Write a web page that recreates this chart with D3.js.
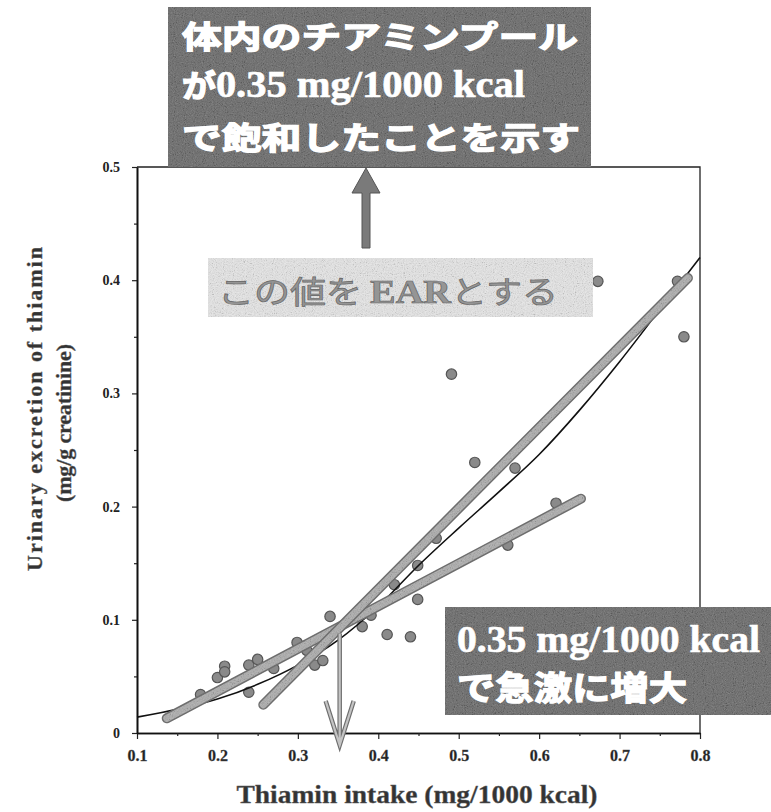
<!DOCTYPE html>
<html>
<head>
<meta charset="utf-8">
<script src="https://cdn.jsdelivr.net/npm/d3@7"></script>
<style>
  body { margin: 0; background: #fff; }
  svg { display: block; }
</style>
</head>
<body>
<div id="chart"></div>
<script>
// Chart data

// thiamin intake (mg/1000 kcal) of each subject
var intakeValues = [0.179, 0.200, 0.209, 0.209, 0.239, 0.239, 0.250, 0.270, 0.299, 0.311,
                    0.321, 0.331, 0.340, 0.380, 0.391, 0.411, 0.420, 0.440, 0.449, 0.449,
                    0.491, 0.520, 0.570, 0.621, 0.561, 0.472, 0.673, 0.780, 0.772];
// urinary excretion (mg/g creatinine) of each subject
var excretionValues = [0.034, 0.049, 0.059, 0.054, 0.036, 0.060, 0.065, 0.057, 0.080, 0.073,
                       0.060, 0.064, 0.103, 0.094, 0.104, 0.087, 0.131, 0.085, 0.118, 0.148,
                       0.317, 0.239, 0.234, 0.203, 0.166, 0.172, 0.399, 0.350, 0.399];

// thin fitted curve
var curveX = [0.10, 0.15, 0.20, 0.25, 0.30, 0.35, 0.40, 0.45, 0.50, 0.55, 0.60, 0.65, 0.70, 0.75, 0.80];
var curveY = [0.014, 0.021, 0.030, 0.043, 0.060, 0.082, 0.112, 0.148, 0.181, 0.213, 0.246, 0.285, 0.328, 0.374, 0.420];

// two thick regression lines
var steepLineX = [0.257, 0.785];
var steepLineY = [0.025, 0.402];
var shallowLineX = [0.137, 0.652];
var shallowLineY = [0.013, 0.207];

// break point marked with the down arrow
var earValue = 0.352;
var earLevel = 0.088;

// axes
var xTicks = [0.1, 0.2, 0.3, 0.4, 0.5, 0.6, 0.7, 0.8];
var xMinorTicks = [0.15, 0.25, 0.35, 0.45, 0.55, 0.65, 0.75];
var yTicks = [0, 0.1, 0.2, 0.3, 0.4, 0.5];
var yMinorTicks = [0.05, 0.15, 0.25, 0.35, 0.45];

var svgWidth = 771;
var svgHeight = 812;

var margin = { top: 167, right: 71, bottom: 79, left: 137 };
var width = svgWidth - margin.left - margin.right;
var height = svgHeight - margin.top - margin.bottom;

var serif = "'Liberation Serif', 'Times New Roman', serif";
var jp = "'Noto Sans CJK JP', 'Noto Sans', sans-serif";

var svg = d3.select("#chart")
    .append("svg")
    .attr("width", svgWidth)
    .attr("height", svgHeight);

// speckled texture like the scanned boxes
var defs = svg.append("defs");
var grain = defs.append("filter")
    .attr("id", "grain")
    .attr("filterUnits", "userSpaceOnUse")
    .attr("x", -300).attr("y", -300).attr("width", 1400).attr("height", 1400);
grain.append("feTurbulence")
    .attr("type", "fractalNoise")
    .attr("baseFrequency", 0.9)
    .attr("numOctaves", 2)
    .attr("seed", 7)
    .attr("result", "noise");
grain.append("feColorMatrix")
    .attr("in", "noise")
    .attr("type", "saturate")
    .attr("values", 0)
    .attr("result", "gray");
var transfer = grain.append("feComponentTransfer").attr("in", "gray").attr("result", "contrast");
["feFuncR", "feFuncG", "feFuncB"].forEach(function(fn) {
    transfer.append(fn).attr("type", "linear").attr("slope", 3).attr("intercept", -1);
});
grain.append("feComposite")
    .attr("in", "contrast")
    .attr("in2", "SourceAlpha")
    .attr("operator", "in");

var chartGroup = svg.append("g")
    .attr("transform", `translate(${margin.left}, ${margin.top})`);

var xScale = d3.scaleLinear().domain([0.1, 0.8]).range([0, width]);
var yScale = d3.scaleLinear().domain([0, 0.5]).range([height, 0]);

// axes
var bottomAxis = d3.axisBottom(xScale)
    .tickValues(xTicks)
    .tickSize(6)
    .tickSizeOuter(0)
    .tickPadding(11)
    .tickFormat(d3.format(".1f"));
var bottomMinor = d3.axisBottom(xScale)
    .tickValues(xMinorTicks)
    .tickSize(3)
    .tickSizeOuter(0)
    .tickFormat("");
var leftAxis = d3.axisLeft(yScale)
    .tickValues(yTicks)
    .tickSize(5)
    .tickSizeOuter(0)
    .tickPadding(12)
    .tickFormat(function(d) { return d === 0 ? "0" : d3.format(".1f")(d); });
var leftMinor = d3.axisLeft(yScale)
    .tickValues(yMinorTicks)
    .tickSize(3)
    .tickSizeOuter(0)
    .tickFormat("");

var xAxis = chartGroup.append("g")
    .attr("transform", `translate(0, ${height})`)
    .call(bottomAxis);
chartGroup.append("g")
    .attr("transform", `translate(0, ${height})`)
    .call(bottomMinor);
var yAxis = chartGroup.append("g").call(leftAxis);
chartGroup.append("g").call(leftMinor);

chartGroup.selectAll(".domain").attr("stroke", "#111").attr("stroke-width", 1.6);
chartGroup.selectAll(".tick line").attr("stroke", "#222").attr("stroke-width", 1.2);

xAxis.selectAll("text")
    .attr("font-family", serif)
    .attr("font-weight", "bold")
    .attr("font-size", "16px")
    .attr("fill", "#222")
    .attr("stroke", "#555")
    .attr("stroke-width", 0.3);
yAxis.selectAll("text")
    .attr("font-family", serif)
    .attr("font-weight", "bold")
    .attr("font-size", "14px")
    .attr("fill", "#222");

// top and right frame
chartGroup.append("path")
    .attr("d", `M0,0 H${width} V${height}`)
    .attr("fill", "none")
    .attr("stroke", "#222")
    .attr("stroke-width", 1.3);

// points
chartGroup.append("g")
    .selectAll("circle")
    .data(intakeValues)
    .enter()
    .append("circle")
    .attr("cx", function(d) { return xScale(d); })
    .attr("cy", function(d, i) { return yScale(excretionValues[i]); })
    .attr("r", 5.2)
    .attr("fill", "#8a8a8a")
    .attr("stroke", "#555")
    .attr("stroke-width", 1.2);

// thin fitted curve
var curveLine = d3.line()
    .x(function(d) { return xScale(d); })
    .y(function(d, i) { return yScale(curveY[i]); })
    .curve(d3.curveMonotoneX);
chartGroup.append("path")
    .datum(curveX)
    .attr("d", curveLine)
    .attr("fill", "none")
    .attr("stroke", "#111")
    .attr("stroke-width", 1.6);

// thick gray lines
function thickLine(xs, ys) {
    var pts = xs.map(function(d, i) { return [xScale(d), yScale(ys[i])]; });
    var line = d3.line();
    chartGroup.append("path")
        .attr("d", line(pts))
        .attr("stroke", "#6e6e6e")
        .attr("stroke-width", 10)
        .attr("stroke-linecap", "round");
    chartGroup.append("path")
        .attr("d", line(pts))
        .attr("stroke", "#ababab")
        .attr("stroke-width", 7)
        .attr("stroke-linecap", "round");
    chartGroup.append("path")
        .attr("d", line(pts))
        .attr("stroke", "#000")
        .attr("stroke-width", 7)
        .attr("stroke-linecap", "round")
        .attr("filter", "url(#grain)")
        .attr("opacity", 0.2);
}
thickLine(shallowLineX, shallowLineY);
thickLine(steepLineX, steepLineY);

// down arrow to the break point
var ax = xScale(earValue);
var arrowTip = height + 12;
var arrowPath = `M${ax},${yScale(earLevel)} V${arrowTip} M${ax - 14},${arrowTip - 44} L${ax},${arrowTip} L${ax + 14},${arrowTip - 44}`;
chartGroup.append("path")
    .attr("d", arrowPath)
    .attr("fill", "none")
    .attr("stroke", "#6e6e6e")
    .attr("stroke-width", 4.5);
chartGroup.append("path")
    .attr("d", arrowPath)
    .attr("fill", "none")
    .attr("stroke", "#c4c4c4")
    .attr("stroke-width", 2.2);

// axis titles
svg.append("text")
    .attr("x", 417)
    .attr("y", 803)
    .attr("text-anchor", "middle")
    .attr("font-family", serif)
    .attr("font-weight", "bold")
    .attr("font-size", "26px")
    .attr("fill", "#333")
    .attr("stroke", "#666")
    .attr("stroke-width", 0.4)
    .attr("textLength", 361)
    .attr("lengthAdjust", "spacingAndGlyphs")
    .text("Thiamin intake (mg/1000 kcal)");

var yTitle = svg.append("g")
    .attr("font-family", serif)
    .attr("font-weight", "bold")
    .attr("font-size", "22px")
    .attr("fill", "#333")
    .attr("stroke", "#666")
    .attr("stroke-width", 0.4)
    .attr("text-anchor", "middle");
yTitle.append("text")
    .attr("transform", "translate(42, 409) rotate(-90)")
    .attr("textLength", 324)
    .attr("lengthAdjust", "spacing")
    .text("Urinary excretion of thiamin");
yTitle.append("text")
    .attr("transform", "translate(71, 423) rotate(-90)")
    .attr("textLength", 158)
    .attr("lengthAdjust", "spacing")
    .text("(mg/g creatinine)");

// annotation boxes
function box(x, y, w, h, fill) {
    svg.append("rect")
        .attr("x", x).attr("y", y).attr("width", w).attr("height", h)
        .attr("fill", fill);
    svg.append("rect")
        .attr("x", x).attr("y", y).attr("width", w).attr("height", h)
        .attr("fill", "#000")
        .attr("filter", "url(#grain)")
        .attr("opacity", 0.22);
}

// top dark box
box(168, 7, 423, 160, "#6b6b6b");
var topText = svg.append("g")
    .attr("fill", "#fff")
    .attr("font-weight", "bold")
    .attr("stroke", "#fff")
    .attr("stroke-width", 1.3);
topText.append("text")
    .attr("x", 182).attr("y", 48)
    .attr("font-family", jp).attr("font-size", "31px")
    .attr("textLength", 396).attr("lengthAdjust", "spacingAndGlyphs")
    .text("体内のチアミンプール");
var t2 = topText.append("text")
    .attr("x", 182).attr("y", 97)
    .attr("textLength", 343).attr("lengthAdjust", "spacingAndGlyphs");
t2.append("tspan").attr("font-family", jp).attr("font-size", "31px").text("が");
t2.append("tspan").attr("font-family", serif).attr("font-size", "37px").attr("stroke-width", 0.6).text("0.35 mg/1000 kcal");
topText.append("text")
    .attr("x", 182).attr("y", 149)
    .attr("font-family", jp).attr("font-size", "31px")
    .attr("textLength", 398).attr("lengthAdjust", "spacingAndGlyphs")
    .text("で飽和したことを示す");

// up arrow
svg.append("path")
    .attr("d", "M362,248 V193 H352 L366,168 L380,193 H370 V248 Z")
    .attr("fill", "#7a7a7a")
    .attr("stroke", "#555")
    .attr("stroke-width", 1);

// light box
box(208, 258, 385, 59, "#e2e2e2");
var earText = svg.append("text")
    .attr("x", 218).attr("y", 303)
    .attr("fill", "#959595")
    .attr("stroke", "#666")
    .attr("stroke-width", 0.7)
    .attr("textLength", 340).attr("lengthAdjust", "spacingAndGlyphs");
earText.append("tspan").attr("font-family", jp).attr("font-size", "31px").text("この値を ");
earText.append("tspan").attr("font-family", serif).attr("font-weight", "bold").attr("font-size", "33px").text("EAR");
earText.append("tspan").attr("font-family", jp).attr("font-size", "31px").text("とする");

// bottom right dark box
box(445, 607, 326, 108, "#6b6b6b");
var brText = svg.append("g")
    .attr("fill", "#fff")
    .attr("font-weight", "bold")
    .attr("stroke", "#fff")
    .attr("stroke-width", 0.6);
brText.append("text")
    .attr("x", 457).attr("y", 652)
    .attr("font-family", serif).attr("font-size", "37px")
    .attr("textLength", 303).attr("lengthAdjust", "spacingAndGlyphs")
    .text("0.35 mg/1000 kcal");
brText.append("text")
    .attr("x", 457).attr("y", 700)
    .attr("font-family", jp).attr("font-size", "33px")
    .attr("stroke-width", 1.3)
    .attr("textLength", 230).attr("lengthAdjust", "spacingAndGlyphs")
    .text("で急激に増大");
</script>
</body>
</html>
